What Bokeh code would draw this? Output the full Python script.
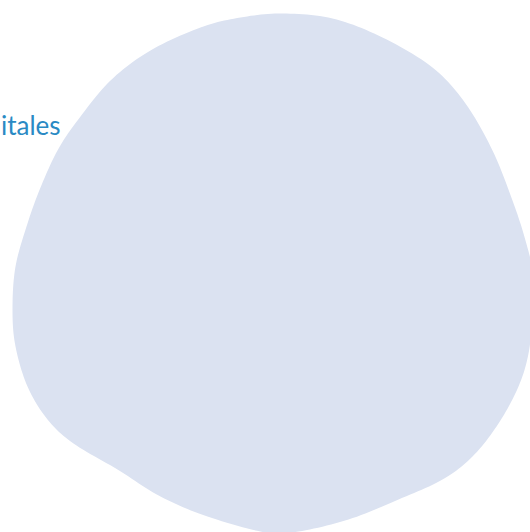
import numpy as np
from bokeh.plotting import figure
from bokeh.models import Range1d, ColumnDataSource
from bokeh.core.properties import value
from bokeh.embed import file_html
from bokeh.resources import INLINE

# Outline of the blob (picture pixel coordinates)
blob_x = [282, 332, 382, 432, 465, 492, 512, 525, 534, 532, 528, 518, 498, 472,
          442, 398, 348, 298, 265, 207, 160, 117, 73, 47, 27, 15, 12, 15, 27,
          40, 57, 77, 110, 150, 200, 240]
blob_y = [13, 18, 37, 67, 103, 150, 200, 240, 280, 316, 353, 386, 423, 456,
          479, 499, 519, 531, 532, 516, 496, 469, 443, 419, 386, 346, 309, 266,
          223, 187, 150, 120, 80, 50, 27, 17]

labels = ["itales"]
label_x = [60]
label_y = [124]


def smooth_closed(xs, ys, n=12):
    """Closed Catmull-Rom curve through the traced outline points."""
    P = np.column_stack([xs, ys]).astype(float)
    m = len(P)
    out = []
    for i in range(m):
        p0, p1, p2, p3 = P[(i - 1) % m], P[i], P[(i + 1) % m], P[(i + 2) % m]
        for t in np.linspace(0, 1, n, endpoint=False):
            t2, t3 = t * t, t * t * t
            pt = 0.5 * ((2 * p1) + (-p0 + p2) * t
                        + (2 * p0 - 5 * p1 + 4 * p2 - p3) * t2
                        + (-p0 + 3 * p1 - 3 * p2 + p3) * t3)
            out.append(pt)
    out = np.array(out)
    return out[:, 0], out[:, 1]


sx, sy = smooth_closed(blob_x, blob_y)

p = figure(width=530, height=532, output_backend="svg", toolbar_location=None,
           x_range=Range1d(0, 530), y_range=Range1d(532, 0),
           min_border=0, outline_line_color=None)
p.axis.visible = False
p.grid.visible = False
p.background_fill_color = "white"
p.border_fill_color = "white"

p.patch(sx, sy, fill_color="#dbe2f1", line_color=None)

src = ColumnDataSource(dict(x=label_x, y=label_y, text=labels))
p.text(x="x", y="y", text="text", source=src, text_align="right",
       text_baseline="alphabetic", text_color="#2a8ac4",
       text_font=value("Lato"), text_font_size="26px")

open("out.html", "w").write(file_html(p, INLINE))
